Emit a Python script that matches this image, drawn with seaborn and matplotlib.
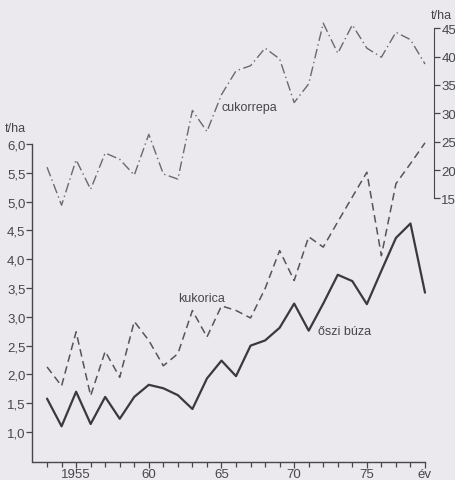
import numpy as np
import matplotlib
matplotlib.use("Agg")
import matplotlib.pyplot as plt
import seaborn as sns

# évek és termésátlagok (t/ha)
years = list(range(1953, 1980))
wheat = [1.58, 1.10, 1.70, 1.14, 1.61, 1.23, 1.61, 1.82, 1.76, 1.64, 1.40, 1.93, 2.24,
         1.97, 2.50, 2.59, 2.81, 3.23, 2.76, 3.23, 3.73, 3.62, 3.22, 3.80, 4.37, 4.62, 3.42]
corn = [2.13, 1.80, 2.74, 1.63, 2.40, 1.95, 2.92, 2.59, 2.15, 2.36, 3.11, 2.65, 3.19,
        3.11, 2.98, 3.49, 4.15, 3.63, 4.39, 4.21, 4.65, 5.08, 5.51, 4.06, 5.31, 5.66, 6.02]
beet = [20.5, 13.8, 21.8, 16.6, 23.0, 21.9, 19.1, 26.3, 19.3, 18.4, 30.5, 26.8, 33.3,
        37.5, 38.4, 41.5, 39.6, 31.9, 35.2, 45.9, 40.6, 45.6, 41.5, 39.9, 44.3, 43.0, 38.7]

left_ticks = [1.0, 1.5, 2.0, 2.5, 3.0, 3.5, 4.0, 4.5, 5.0, 5.5, 6.0]
left_labels = ["1,0", "1,5", "2,0", "2,5", "3,0", "3,5", "4,0", "4,5", "5,0", "5,5", "6,0"]
right_ticks = [15, 20, 25, 30, 35, 40, 45]
x_ticks = [1955, 1960, 1965, 1970, 1975, 1979]
x_labels = ["1955", "60", "65", "70", "75", "év"]

bg = "#ebe8ee"
ink = "#474747"

sns.set_style("ticks")
plt.rcParams["font.family"] = ["Liberation Sans", "DejaVu Sans"]

W, H = 456, 481
fig = plt.figure(figsize=(W / 100, H / 100), dpi=100, facecolor=bg)

def box(x0, x1, ytop, ybot):
    return [x0 / W, 1 - ybot / H, (x1 - x0) / W, (ybot - ytop) / H]

# bal tengely: őszi búza, kukorica
ax = fig.add_axes(box(32.5, 425, 145, 463))
ax.set_facecolor("none")
# jobb tengely: cukorrépa
ax2 = fig.add_axes(box(32.5, 434.5, 29.3, 463))
ax2.set_facecolor("none")

sns.lineplot(x=years, y=wheat, ax=ax, color="#3a3a3a", linewidth=1.6)
sns.lineplot(x=years, y=corn, ax=ax, color="#555555", linewidth=1.1, linestyle=(0, (5, 3)))
sns.lineplot(x=years, y=beet, ax=ax2, color="#6a6a6a", linewidth=1.0,
             linestyle=(0, (7, 2.5, 1, 2.5)))
for ln in ax.lines + ax2.lines:
    ln.set_clip_on(False)

ax.set_xlim(1952, 1979)
ax.set_ylim(0.48, 6.0)
ax2.set_xlim(1952, 1952 + (434.5 - 32.5) / (392.5 / 27))
ax2.set_ylim(-31.5, 45)

for s in ["top", "right"]:
    ax.spines[s].set_visible(False)
for s in ["top", "left", "bottom"]:
    ax2.spines[s].set_visible(False)
for s in ax.spines.values():
    s.set_color(ink)
    s.set_linewidth(1.0)
ax2.spines["right"].set_color(ink)
ax2.spines["right"].set_bounds(15, 45)

ax.set_yticks(left_ticks)
ax.set_yticklabels(left_labels)
ax.set_xticks(x_ticks)
ax.set_xticklabels(x_labels)
ax.set_xticks([y for y in range(1953, 1979) if y not in x_ticks], minor=True)
ax.tick_params(axis="both", which="both", colors=ink, labelcolor=ink, labelsize=9.5, width=0.9)
ax.tick_params(axis="x", which="major", length=4, pad=0.5)
ax.tick_params(axis="x", which="minor", length=3.5)
ax.tick_params(axis="y", length=4, pad=1)

ax2.set_xticks([])
ax2.yaxis.tick_right()
ax2.set_yticks(right_ticks)
ax2.tick_params(axis="y", colors=ink, labelcolor=ink, labelsize=9.5, length=4, pad=1, width=0.9)
ax2.set_xlabel("")
ax2.set_ylabel("")
ax.set_xlabel("")
ax.set_ylabel("")

fig.text(5 / W, 1 - 129 / H, "t/ha", fontsize=9, color=ink, va="center", ha="left")
fig.text(441 / W, 1 - 16 / H, "t/ha", fontsize=9, color=ink, va="center", ha="center")
fig.text(222 / W, 1 - 108 / H, "cukorrepa", fontsize=9, color=ink, va="center", ha="left")
fig.text(178 / W, 1 - 299 / H, "kukorica", fontsize=9, color=ink, va="center", ha="left")
fig.text(318 / W, 1 - 332 / H, "őszi búza", fontsize=9, color=ink, va="center", ha="left")

fig.savefig("out.png", dpi=100, facecolor=bg)
